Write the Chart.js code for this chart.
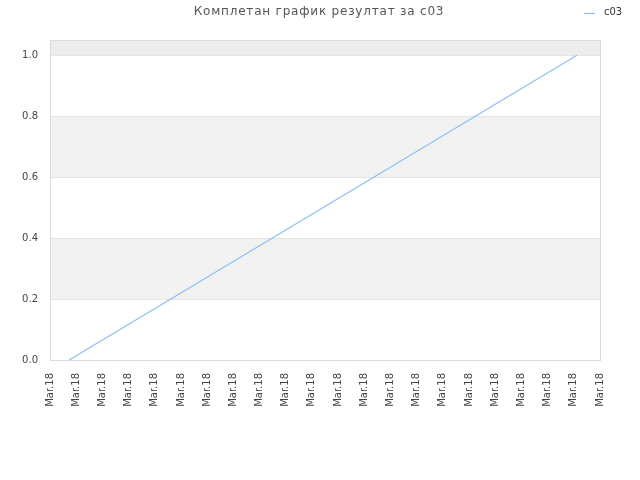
<!DOCTYPE html>
<html><head><meta charset="utf-8">
<script src="https://cdn.jsdelivr.net/npm/chart.js@4/dist/chart.umd.min.js"></script>
<style>html,body{margin:0;padding:0;background:#fff}#wrap{width:640px;height:480px}</style>
</head><body><div id="wrap"><canvas id="c" width="640" height="480"></canvas></div>
<script>
const titleText = 'Комплетан график резултат за c03';
const seriesName = 'c03';
const xTickLabels = ['Mar.18','Mar.18','Mar.18','Mar.18','Mar.18','Mar.18','Mar.18','Mar.18','Mar.18','Mar.18','Mar.18','Mar.18','Mar.18','Mar.18','Mar.18','Mar.18','Mar.18','Mar.18','Mar.18','Mar.18','Mar.18','Mar.18'];
const seriesX = [0.73, 20.12];
const seriesY = [0, 1];
const yTicks = [0, 0.2, 0.4, 0.6, 0.8, 1.0];

const bandPlugin = {
  id: 'bands',
  beforeDraw(chart) {
    const {ctx, chartArea: a, scales: {y}} = chart;
    ctx.save();
    const edges = yTicks.concat([y.max]);
    for (let i = 0; i < edges.length - 1; i++) {
      if (i % 2 === 1) {
        const top = y.getPixelForValue(edges[i + 1]);
        const bot = y.getPixelForValue(edges[i]);
        ctx.fillStyle = (i === edges.length - 2) ? '#ececec' : '#f2f2f2';
        ctx.fillRect(a.left, top, a.right - a.left, bot - top);
      }
    }
    ctx.restore();
  },
  afterDraw(chart) {
    const {ctx, chartArea: a} = chart;
    ctx.save();
    ctx.strokeStyle = '#dcdcdc';
    ctx.lineWidth = 1;
    ctx.strokeRect(Math.round(a.left) + 0.5, Math.round(a.top) + 0.5, Math.round(a.right - a.left), Math.round(a.bottom - a.top));
    // title
    ctx.fillStyle = '#555';
    ctx.font = '12px "DejaVu Sans"';
    ctx.textAlign = 'center';
    ctx.textBaseline = 'middle';
    try { ctx.letterSpacing = '0.8px'; } catch (e) {}
    ctx.fillText(titleText, 319, 12);
    try { ctx.letterSpacing = '0px'; } catch (e) {}
    // legend
    ctx.strokeStyle = '#92c0f2';
    ctx.lineWidth = 1.3;
    ctx.beginPath(); ctx.moveTo(584, 13.5); ctx.lineTo(595, 13.5); ctx.stroke();
    ctx.fillStyle = '#333';
    ctx.font = '10px "DejaVu Sans"';
    ctx.textAlign = 'left';
    ctx.fillText(seriesName, 604, 12);
    ctx.restore();
  }
};

new Chart(document.getElementById('c'), {
  type: 'line',
  data: {
    datasets: [{
      label: seriesName,
      data: seriesX.map((x, i) => ({x: x, y: seriesY[i]})),
      borderColor: '#92c0f2',
      borderWidth: 1.3,
      pointRadius: 0,
      fill: false,
      tension: 0
    }]
  },
  options: {
    responsive: false,
    animation: false,
    devicePixelRatio: 1,
    layout: {padding: {top: 40, right: 40, left: 0, bottom: 0}},
    plugins: {legend: {display: false}, title: {display: false}, tooltip: {enabled: false}},
    scales: {
      x: {
        type: 'linear', min: 0, max: xTickLabels.length - 1,
        afterFit(s) { s.height = 120; },
        afterBuildTicks(s) { s.ticks = xTickLabels.map((l, i) => ({value: i})); },
        grid: {display: false, drawTicks: false},
        border: {display: false},
        ticks: {
          autoSkip: false, maxRotation: 90, minRotation: 90, padding: 13,
          color: '#444', font: {family: 'DejaVu Sans', size: 10},
          callback: (v) => xTickLabels[v] !== undefined ? xTickLabels[v] : ''
        }
      },
      y: {
        min: 0, max: 1.05,
        afterFit(s) { s.width = 50; },
        afterBuildTicks(s) { s.ticks = yTicks.map(v => ({value: v})); },
        grid: {color: '#e4e4e4', drawTicks: false},
        border: {display: false},
        ticks: {
          padding: 12, color: '#444', font: {family: 'DejaVu Sans', size: 10},
          callback: (v) => Number(v).toFixed(1)
        }
      }
    }
  },
  plugins: [bandPlugin]
});
</script></body></html>
